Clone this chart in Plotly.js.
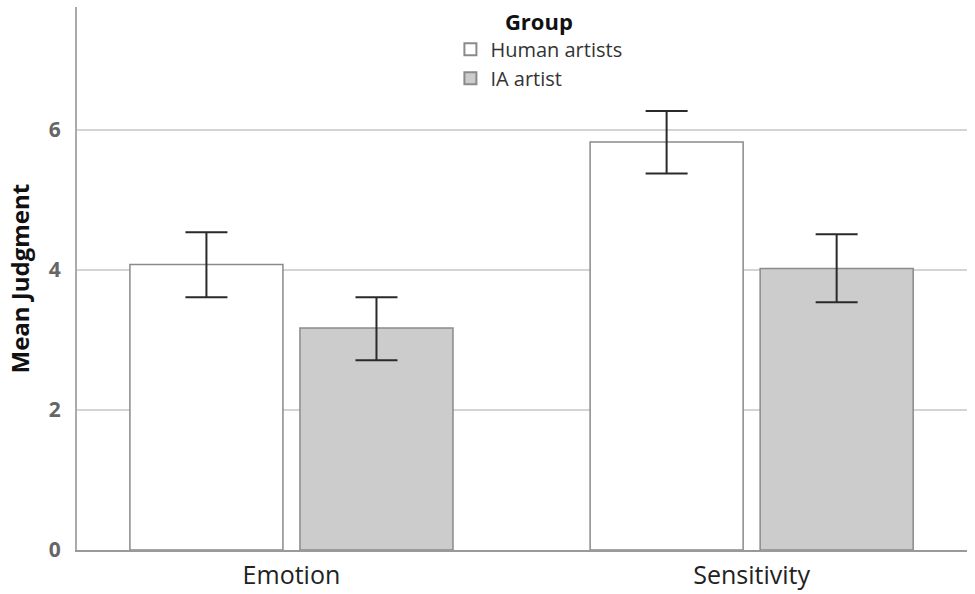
<!DOCTYPE html>
<html>
<head>
<meta charset="utf-8">
<script src="https://cdn.plot.ly/plotly-3.0.1.min.js"></script>
<style>html,body{margin:0;padding:0;background:#fff}#chart{width:975px;height:594px}</style>
</head>
<body>
<div id="chart"></div>
<script>
const categories = ["Emotion", "Sensitivity"];
const humanMeans = [4.08, 5.83];
const humanUpper = [4.54, 6.27];
const humanLower = [3.61, 5.38];
const iaMeans = [3.17, 4.02];
const iaUpper = [3.61, 4.51];
const iaLower = [2.71, 3.54];
const yTicks = [0, 2, 4, 6];

function errs(means, up, lo) {
  return {
    type: 'data', symmetric: false,
    array: up.map((u, i) => u - means[i]),
    arrayminus: lo.map((l, i) => means[i] - l),
    color: '#2a2a2a', thickness: 2, width: 21
  };
}

const traces = [
  {type: 'bar', name: 'Human artists', x: categories, y: humanMeans,
   marker: {color: '#ffffff', line: {color: '#8a8a8a', width: 1.5}},
   error_y: errs(humanMeans, humanUpper, humanLower), hoverinfo: 'none'},
  {type: 'bar', name: 'IA artist', x: categories, y: iaMeans,
   marker: {color: '#cccccc', line: {color: '#8a8a8a', width: 1.5}},
   error_y: errs(iaMeans, iaUpper, iaLower), hoverinfo: 'none'}
];

const layout = {
  width: 975, height: 594,
  margin: {l: 77, r: 8, t: 7, b: 44, autoexpand: false},
  paper_bgcolor: '#ffffff', plot_bgcolor: '#ffffff',
  barmode: 'group', bargap: 0.261, bargroupgap: 0.1,
  font: {family: 'Open Sans, sans-serif', color: '#222'},
  xaxis: {
    type: 'category', range: [-0.466, 1.468], automargin: false,
    showline: true, linecolor: '#999999', linewidth: 2,
    showgrid: false, zeroline: false,
    ticks: 'outside', ticklen: 2, tickcolor: 'rgba(0,0,0,0)',
    tickfont: {family: 'Open Sans, sans-serif', size: 25, color: '#222'}
  },
  yaxis: {
    range: [0, 7.757], tickvals: yTicks, ticktext: yTicks.map(String), automargin: false,
    showline: true, linecolor: '#aaaaaa', linewidth: 2,
    showgrid: true, gridcolor: '#d4d4d4', gridwidth: 2, zeroline: false,
    ticks: 'outside', ticklen: 10, tickcolor: 'rgba(0,0,0,0)',
    tickfont: {family: 'Open Sans, sans-serif', size: 21, color: '#666', weight: 'bold'}
  },
  showlegend: true,
  legend: {
    x: 0.519, xanchor: 'center', y: 1.011, yanchor: 'top',
    bgcolor: 'rgba(0,0,0,0)',
    font: {family: 'Open Sans, sans-serif', size: 20, color: '#333'},
    title: {text: '<b>Group</b>', side: 'top center',
            font: {family: 'Open Sans, sans-serif', size: 22, color: '#111'}},
    tracegroupgap: 0, itemsizing: 'constant'
  },
  annotations: [{
    text: '<b>Mean Judgment</b>', textangle: -90,
    xref: 'paper', yref: 'paper', x: 0, y: 0.5,
    xanchor: 'center', yanchor: 'middle', xshift: -58, showarrow: false,
    font: {family: 'Open Sans, sans-serif', size: 24, color: '#111'}
  }]
};

Plotly.newPlot('chart', traces, layout, {displayModeBar: false, staticPlot: true});
</script>
</body>
</html>
